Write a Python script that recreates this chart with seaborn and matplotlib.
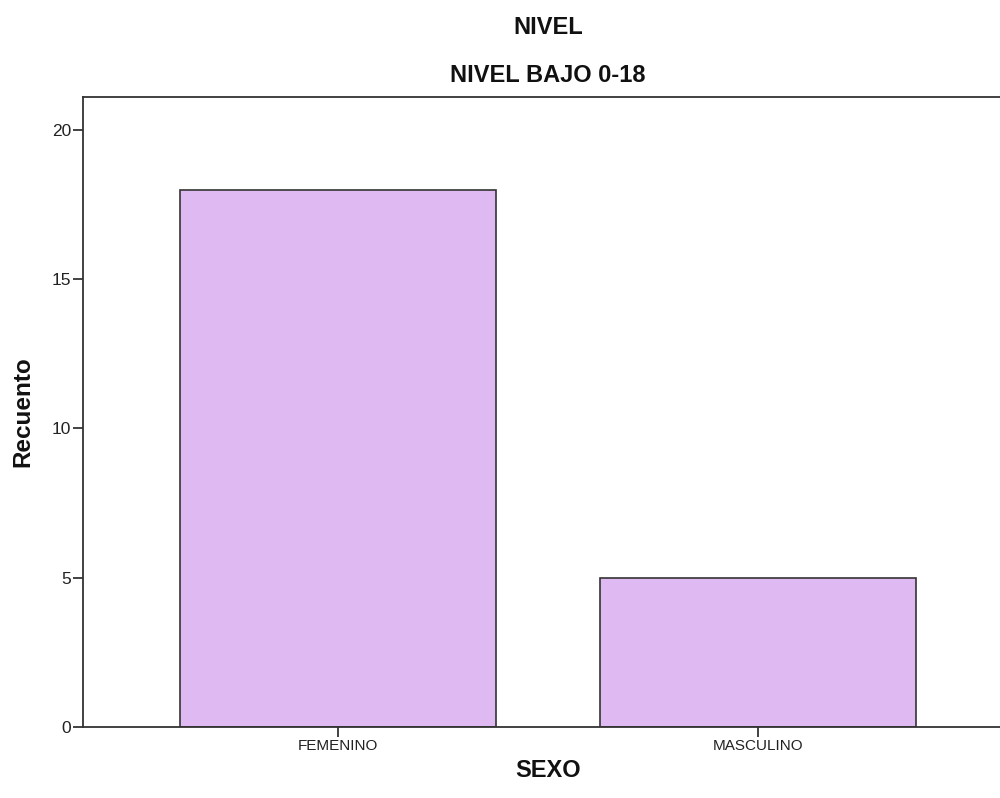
import matplotlib
matplotlib.use("Agg")
import matplotlib.pyplot as plt
import seaborn as sns
import pandas as pd

categories = ["FEMENINO", "MASCULINO"]
counts = [18, 5]
title_top = "NIVEL"
title_sub = "NIVEL BAJO 0-18"
x_label = "SEXO"
y_label = "Recuento"
y_ticks = [0, 5, 10, 15, 20]

sns.set_theme(style="white")
plt.rcParams['font.family'] = ['Liberation Sans', 'DejaVu Sans']

df = pd.DataFrame({"SEXO": categories, "Recuento": counts})

fig = plt.figure(figsize=(10, 7.98), dpi=100)
ax = fig.add_axes([0.083, 0.089, 0.930, 0.7895])

sns.barplot(data=df, x="SEXO", y="Recuento", color="#DEB9F2", saturation=1,
            edgecolor="#333333", linewidth=1.2, width=0.753, ax=ax)

ax.set_xlim(-0.608, 1.608)
ax.set_ylim(0, 21.1)
ax.set_yticks(y_ticks)
ax.set_yticklabels([str(v) for v in y_ticks], fontsize=12.5, color="#222222")
ax.tick_params(axis="x", labelsize=11, length=7, width=1.2, direction="out",
               colors="#222222", pad=2, bottom=True)
ax.tick_params(axis="y", length=7.5, width=1.2, direction="out", colors="#222222",
               pad=1, left=True)

for s in ax.spines.values():
    s.set_visible(True)
    s.set_color("#333333")
    s.set_linewidth(1.3)

ax.set_xlabel(x_label, fontsize=17, fontweight="bold", color="#111111", va="center")
ax.set_ylabel(y_label, fontsize=17.5, fontweight="bold", color="#111111", va="center")
ax.xaxis.set_label_coords(0.5, -0.0685)
ax.yaxis.set_label_coords(-0.0645, 0.5)

fig.text(0.548, 1 - 27/798, title_top, ha="center", va="center",
         fontsize=17, fontweight="bold", color="#111111")
fig.text(0.548, 1 - 76/798, title_sub, ha="center", va="center",
         fontsize=17, fontweight="bold", color="#111111")

fig.savefig("out.png", dpi=100, facecolor="white")
